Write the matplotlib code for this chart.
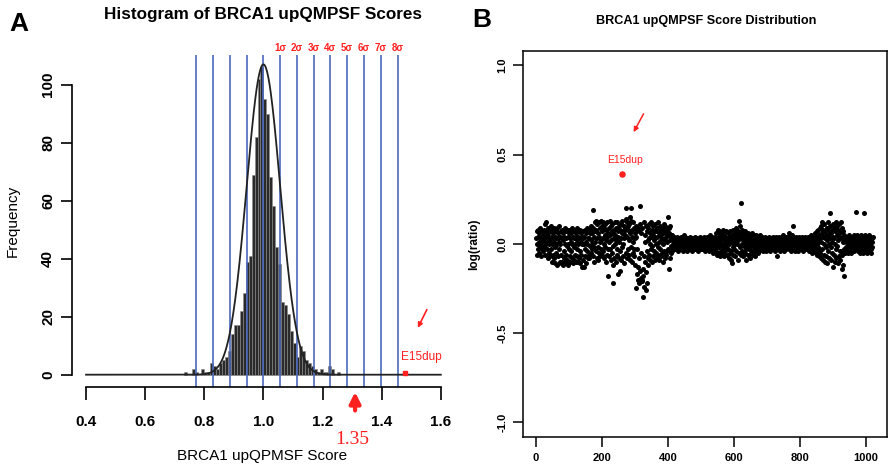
import matplotlib
matplotlib.use("Agg")
import matplotlib.pyplot as plt
import numpy as np

plt.rcParams["font.family"] = ["Liberation Sans", "DejaVu Sans"]

# ---- Panel A data: histogram of upQMPSF scores (bin width 0.01) ----
bin_left = [round(0.73 + 0.01 * i, 2) for i in range(53)]
bin_counts = [
    1, 0, 0, 2, 1, 0, 2, 1, 1, 4, 3, 2, 4, 5, 6, 8,
    14, 17, 17, 22, 28, 39, 41,
    69, 82, 102, 106, 95, 90, 68, 58,
    44, 38, 25, 24, 21, 15, 11, 6, 10, 8, 5, 4, 3, 2, 1, 2, 1, 1, 3, 2, 0, 1,
]
fit_mean = 1.0
fit_sd = 0.0567
fit_peak = 107
sigma_lines = list(range(-4, 9))
sigma_labels = ["1σ", "2σ", "3σ", "4σ", "5σ", "6σ", "7σ", "8σ"]
cutoff_value = 1.31
cutoff_label = "1.35"
e15_score = 1.478
e15_freq = 0.6

# ---- Panel B data: log(ratio) per sample, in hundredths ----
log_ratio_x100 = [
    3, -6, 7, 0, 4, -3, 8, 1, -5, 6, 0, -2, 9, 3, -7, 4, 1, -3, 7, -1,
    6, -4, 2, 8, -2, 4, 11, -6, 3, 0, 7, 12, -3, 5, 1, -8, 6, 9, 0, -5,
    3, 7, -7, 2, 10, -3, 4, -10, 0, 8, 3, -6, 6, 1, -8, 9, -2, 4, -11, 3,
    7, -5, 0, 9, -12, 3, 6, -7, 1, 10, -3, -10, 4, 0, -11, 7, -6, 3, 8, -10,
    -12, 2, 6, -8, 4, -4, 9, 0, -11, 3, 7, -6, -1, 8, -9, 4, 0, -12, 6, -3,
    8, -7, 3, -10, 1, 6, -4, 9, -8, 0, 4, -11, 7, -2, 3, -9, 8, 0, -6, 4,
    -10, 6, 2, -7, 9, -3, 4, -10, 0, 7, -8, 3, -4, 8, -11, 1, 6, -6, 0, 4,
    -13, 3, -9, 7, -13, 0, 4, -7, 8, -3, 1, -11, 6, -4, 9, 0, -8, 3, 7, -6,
    3, -8, 6, -1, 8, -5, 2, 10, -3, 6, 0, -7, 19, 9, -2, 4, -10, 7, 1, 12,
    -4, 8, 13, -8, 3, 11, -2, 6, -9, 12, 4, -5, 9, 1, -7, 13, 2, -3, 10, -6,
    7, 12, -4, 3, 9, -8, 0, 11, -2, 5, -10, 8, 2, -6, 12, 4, -3, -18, 6, 1,
    9, -7, 13, -3, 5, 10, -9, 2, 7, -5, 11, -1, 6, -12, -22, 8, 3, -8, 12, 0,
    5, -10, 9, 2, -6, 12, -3, 7, -17, 4, 10, -8, 1, -15, 8, -4, 11, 3, -9, 6,
    13, -2, 7, 0, -7, 10, 3, -11, 8, 5, 9, -5, 14, 20, -8, 12, 4, 10, -3, 8,
    -6, 11, 2, 15, -9, 6, -2, 13, 20, -10, 8, 4, -5, 12, 1, -7, 9, -3, 6, 3,
    -12, 10, -25, 4, -17, 8, -3, -20, 9, -13, 7, -8, -22, 21, -15, 11, -19, -5, 6, -20,
    -21, 9, -14, -30, -18, 12, -7, -24, 5, -10, 1, -26, -16, 10, -22, -4, 7, -12, 2, -8,
    9, -6, 3, 11, -9, 0, 6, -3, 12, 4, -10, 8, -1, 5, -7, 10, 2, -4, 7, -9,
    3, 11, -5, 7, 0, -8, 9, 4, -2, 12, -6, 6, 1, -9, 10, -3, 5, -7, 8, 2,
    -5, 9, 3, -10, 6, 0, 11, -4, 7, -8, 2, 10, -6, 6, 4, -4, 1, 8, 15, 5,
    -3, 9, -14, 6, -8, 2, 10, -5, 4, -1, 3, -4, 5, 0, -3, 2, -2, 4, 1, -3,
    2, -1, 3, -3, 0, 4, -2, 1, -4, 2, 3, -1, 0, -3, 2, 1, -2, 4, -1, 0,
    3, -2, 1, -4, 2, 0, 5, -3, 1, -1, 2, -2, 4, 0, -3, 1, 3, -1, -4, 2,
    0, 3, -2, 1, -1, 4, -3, 2, 0, -2, 3, 1, -4, 2, -1, 0, 3, -3, 1, 2,
    -2, 1, 4, -1, 0, -3, 2, 3, -2, 1, -4, 0, 2, -1, 3, -2, 1, 4, -3, 0,
    2, -1, 3, -3, 1, 0, -2, 4, -1, 2, -4, 1, 3, -2, 0, 2, -3, 1, 4, -1,
    0, 3, -2, 1, -4, 2, 5, -1, 0, -3, 2, 1, -2, 4, -1, 3, -5, 0, 2, -2,
    4, -3, 1, 0, -4, 6, -2, 3, -6, 8, 1, -5, 4, -2, 7, 0, -7, 3, 5, -4,
    2, -6, 6, -1, 3, -5, 8, 0, -3, 5, -7, 2, 4, -4, 1, 7, -2, -6, 3, 0,
    6, -3, 2, -8, 4, 0, -5, 7, 1, -4, 3, -9, 5, -11, 2, -2, 8, -6, 0, 4,
    -3, 6, 1, -7, 9, 3, -4, 5, 0, 5, -9, 7, 2, 13, -5, 4, 10, -2, 6, -6,
    3, 23, 8, 0, -4, 5, 2, -7, 6, -1, 3, -5, 7, 1, -3, 4, -9, 2, 5, -2,
    0, 6, -6, 3, -3, 5, 1, -8, 4, -1, 2, -5, 6, 0, -4, 3, -6, 2, 5, -2,
    4, -4, 1, 3, -7, 2, -1, 5, -3, 0, 4, -5, 2, -2, 3, 1, -4, 5, -1, 0,
    2, -3, 1, 4, -2, 0, 3, -4, 1, -1, 2, -3, 4, 0, -2, 1, 3, -4, 0, 2,
    -1, 3, -3, 1, 2, -2, 4, 0, -4, 2, 1, -1, 3, -3, 0, 2, -2, 4, 1, -3,
    2, 0, -2, 3, -4, 1, 4, -3, -7, 2, 0, -1, 3, -3, 1, 4, -2, 0, 2, -4,
    3, -1, 1, -3, 4, 0, -2, 2, 5, -4, 1, -1, 3, -2, 0, 4, -3, 2, 1, -2,
    0, 3, -2, 4, -3, 1, 6, -1, 2, 3, -4, 3, 0, -2, 5, 1, -3, 10, -1, 4,
    -2, 1, 3, -4, 0, 2, -1, 4, -3, 1, 2, -2, 3, 0, -4, 1, 4, -1, 2, -3,
    1, -2, 3, 0, -3, 4, -1, 2, -4, 1, 3, -2, 0, 2, -3, 4, -1, 1, -2, 3,
    0, -3, 2, 4, -1, 1, -4, 3, 0, -2, 2, 5, -3, 1, -1, 3, -5, 2, 0, 4,
    -2, 3, -4, 1, 6, -3, 2, -5, 4, 0, 7, -6, 2, -2, 8, -4, 5, -7, 3, 9,
    -5, 10, 1, -8, 6, 12, -3, 4, -9, 8, 0, -6, 11, 3, -10, 7, -2, 5, -7, 9,
    2, 9, -11, 5, -4, 12, 0, -8, 7, 3, 17, 10, -2, 6, -9, 1, 8, -5, 4, -13,
    11, -6, 3, 9, -10, 0, 7, -3, 12, -8, 5, -1, 10, -11, 2, 8, -7, 4, 11, -4,
    6, -9, 12, -4, 3, -14, 9, -6, 1, -12, 7, -3, 5, -18, 2, 4, -5, 1, 3, -2,
    4, -3, 2, 0, -5, 3, 1, -4, 5, -1, 2, -3, 4, 0, -5, 1, 3, -2, 2, -1,
    2, -4, 5, 0, -3, 3, 1, 18, 4, -1, 2, -2, 5, -4, 0, 3, -3, 1, 4, -5,
    0, 3, -2, 5, -4, 1, 2, -3, 2, 4, -5, 0, 17, -1, 2, -4, 5, -2, 1, 3,
    -3, 4, 0, -5, 2, 1, -2, 5, -4, 3, 0, -1, 4, -3, 2, -5, 1, 3, -2, 4,
]
e15_index = 260
e15_ratio = 0.39

red = "#ff2020"
blue = "#4a68bc"

fig = plt.figure(figsize=(8.88, 4.68), dpi=100)

# ---------------- Panel A ----------------
axA = fig.add_axes([0.0809, 0.1731, 0.4315, 0.7094])
axA.bar(bin_left, bin_counts, width=0.01, align="edge",
        color="#2a2a2a", edgecolor="#8a8a8a", linewidth=0.4, zorder=1)
for k in sigma_lines:
    axA.axvline(fit_mean + k * fit_sd, color=blue, lw=1.2, zorder=2)
xs = np.linspace(0.4, 1.6, 600)
axA.plot(xs, fit_peak * np.exp(-0.5 * ((xs - fit_mean) / fit_sd) ** 2),
         color="#222222", lw=1.3, zorder=3)
for k, lab in enumerate(sigma_labels, start=1):
    axA.text(fit_mean + k * fit_sd, 112.8, lab, color=red, fontsize=7,
             fontweight="bold", ha="center", va="center", clip_on=False)

axA.plot([e15_score], [e15_freq], "s", color=red, ms=2.5, zorder=4)
axA.text(e15_score + 0.055, 6, "E15dup", color=red, fontsize=8.5,
         ha="center", va="center")
axA.annotate("", xy=(1.518, 15.3), xytext=(1.557, 23.3),
             arrowprops=dict(arrowstyle="-|>", color=red, lw=1.2,
                             mutation_scale=7))
axA.annotate("", xy=(cutoff_value, -5.0), xytext=(cutoff_value, -13.3),
             xycoords="data", annotation_clip=False,
             arrowprops=dict(arrowstyle="-|>", color=red, lw=3,
                             mutation_scale=16))
axA.text(cutoff_value - 0.01, -22.5, cutoff_label, color=red, fontsize=14,
         family="Liberation Serif", ha="center", va="center", clip_on=False)

axA.set_xlim(0.352, 1.648)
axA.set_ylim(-4.24, 110.24)
for s in ["top", "right"]:
    axA.spines[s].set_visible(False)
axA.spines["bottom"].set_bounds(0.4, 1.6)
axA.spines["left"].set_bounds(0, 100)
axA.set_xticks([0.4, 0.6, 0.8, 1.0, 1.2, 1.4, 1.6])
axA.set_xticklabels(["0.4", "0.6", "0.8", "1.0", "1.2", "1.4", "1.6"],
                    fontweight="bold", fontsize=11)
axA.set_yticks([0, 20, 40, 60, 80, 100])
axA.set_yticklabels(["0", "20", "40", "60", "80", "100"], fontweight="bold",
                    fontsize=11, rotation=90, va="center")
axA.tick_params(axis="x", length=9, width=1.2, pad=11)
axA.tick_params(axis="y", length=8, width=1.2, pad=4)
for s in ["bottom", "left"]:
    axA.spines[s].set_linewidth(1.2)
axA.set_xlabel("BRCA1 upQPMSF Score", fontsize=11)
axA.xaxis.set_label_coords(0.4977, -0.187)
axA.set_ylabel("Frequency", fontsize=11)
axA.yaxis.set_label_coords(-0.135, 0.5)
fig.text(0.296, 0.968, "Histogram of BRCA1 upQMPSF Scores", fontsize=12.3,
         fontweight="bold", ha="center", va="center")
fig.text(0.0214, 0.949, "A", fontsize=19, fontweight="bold",
         ha="center", va="center")

# ---------------- Panel B ----------------
axB = fig.add_axes([0.5886, 0.0669, 0.4102, 0.8241])
idx = np.arange(1, len(log_ratio_x100) + 1)
axB.scatter(idx, np.array(log_ratio_x100) / 100.0, s=13, color="black",
            linewidths=0, zorder=2)
axB.scatter([e15_index], [e15_ratio], s=22, color=red, linewidths=0, zorder=3)
axB.text(e15_index + 10, 0.47, "E15dup", color=red, fontsize=7.5,
         ha="center", va="center")
axB.annotate("", xy=(292, 0.612), xytext=(330, 0.742),
             arrowprops=dict(arrowstyle="-|>", color=red, lw=1.1,
                             mutation_scale=7))
axB.set_xlim(-40, 1063)
axB.set_ylim(-1.08, 1.08)
axB.set_xticks([0, 200, 400, 600, 800, 1000])
axB.set_xticklabels(["0", "200", "400", "600", "800", "1000"],
                    fontweight="bold", fontsize=8)
axB.set_yticks([-1.0, -0.5, 0.0, 0.5, 1.0])
axB.set_yticklabels(["-1.0", "-0.5", "0.0", "0.5", "1.0"], fontweight="bold",
                    fontsize=8, rotation=90, va="center")
axB.tick_params(axis="both", length=7, width=1.1)
axB.tick_params(axis="x", pad=5)
axB.tick_params(axis="y", pad=4)
for s in axB.spines.values():
    s.set_linewidth(1.1)
axB.set_ylabel("log(ratio)", fontsize=8.5, fontweight="bold")
axB.yaxis.set_label_coords(-0.117, 0.5)
fig.text(0.795, 0.955, "BRCA1 upQMPSF Score Distribution", fontsize=9.1,
         fontweight="bold", ha="center", va="center")
fig.text(0.5425, 0.957, "B", fontsize=19, fontweight="bold",
         ha="center", va="center")

fig.savefig("out.png", dpi=100)
